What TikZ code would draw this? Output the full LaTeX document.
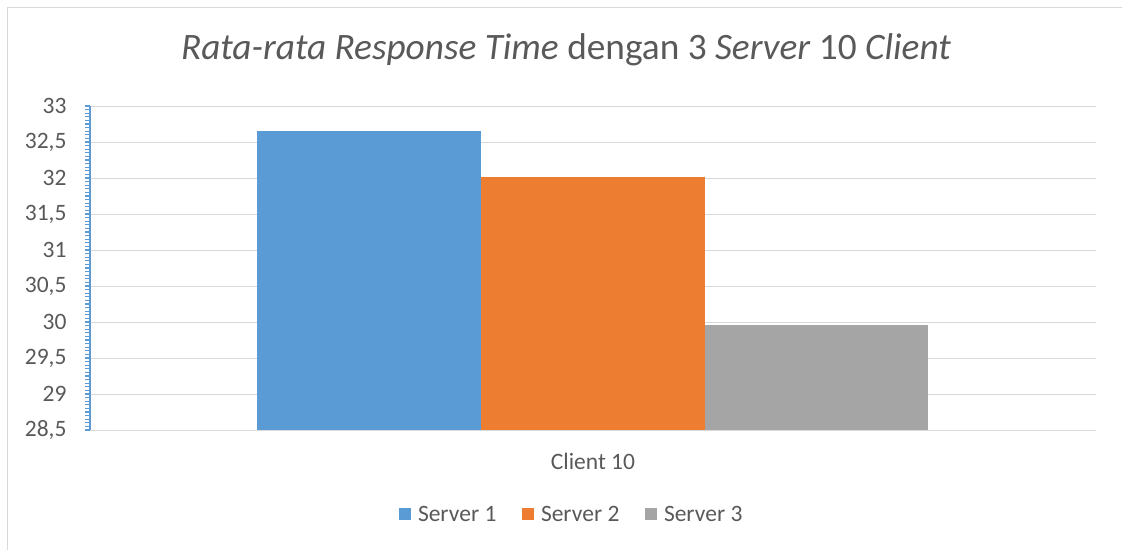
\documentclass[tikz,border=0pt]{standalone}
\usepackage{fontspec}
\setmainfont{Carlito}
\usetikzlibrary{positioning}
\definecolor{serverA}{HTML}{5B9BD5}
\definecolor{serverB}{HTML}{ED7D31}
\definecolor{serverC}{HTML}{A5A5A5}
\definecolor{gridgray}{HTML}{D9D9D9}
\definecolor{textgray}{HTML}{595959}
\tikzset{
  ticklabel/.style={anchor=east,inner sep=0pt,text=textgray,font=\fontsize{23.5}{27}\selectfont},
  legendbox/.style={fill=#1,minimum size=12pt,inner sep=0pt},
  legendtext/.style={right=6pt of #1,inner sep=0pt,text=textgray,font=\fontsize{23.5}{27}\selectfont},
}
\begin{document}
\begin{tikzpicture}[x=1pt,y=-1pt,line width=1pt]
  \useasboundingbox (0,0) rectangle (1122,549);
  % chart frame
  \draw[gridgray] (7,560) -- (7,7) -- (1135,7);
  % plot corners
  \coordinate (o) at (90,430);
  \coordinate (top) at (90,106);
  \coordinate (end) at (1096,430);
  % grid
  \foreach \k in {0,...,8}
    \draw[gridgray] (90,106+36*\k) -- (1096,106+36*\k);
  \draw[gridgray] (o) -- (end);
  % bars
  \fill[serverA] (257,430) rectangle (481,131.2);
  \fill[serverB] (481,430) rectangle (705,176.6);
  \fill[serverC] (705,430) rectangle (928,325.1);
  % value axis with minor ticks
  \foreach \k in {0,...,90}
    \draw[serverA,line width=1.3pt] (85,106+3.6*\k) -- (90,106+3.6*\k);
  \draw[serverA,line width=1.3pt] (top) -- (o);
  \node[ticklabel] (y33) at (67,106) {33};
  \node[ticklabel] (y325) at (67,142) {32,5};
  \node[ticklabel] (y32) at (67,178) {32};
  \node[ticklabel] (y315) at (67,214) {31,5};
  \node[ticklabel] (y31) at (67,250) {31};
  \node[ticklabel] (y305) at (67,286) {30,5};
  \node[ticklabel] (y30) at (67,322) {30};
  \node[ticklabel] (y295) at (67,358) {29,5};
  \node[ticklabel] (y29) at (67,394) {29};
  \node[ticklabel] (y285) at (67,430) {28,5};
  % category and title
  \node[text=textgray,font=\fontsize{23.5}{27}\selectfont] (cat) at (593,461) {Client 10};
  \node[text=textgray,font=\fontsize{37.3}{42}\selectfont] (title) at (566,50)
    {\textit{Rata-rata Response Time} dengan 3 \textit{Server} 10 \textit{Client}};
  % legend
  \node[legendbox=serverA] (k1) at (405,514) {};
  \node[legendtext=k1] (l1) {Server 1};
  \node[legendbox=serverB] (k2) at (528,514) {};
  \node[legendtext=k2] (l2) {Server 2};
  \node[legendbox=serverC] (k3) at (651,514) {};
  \node[legendtext=k3] (l3) {Server 3};
\end{tikzpicture}
\end{document}
